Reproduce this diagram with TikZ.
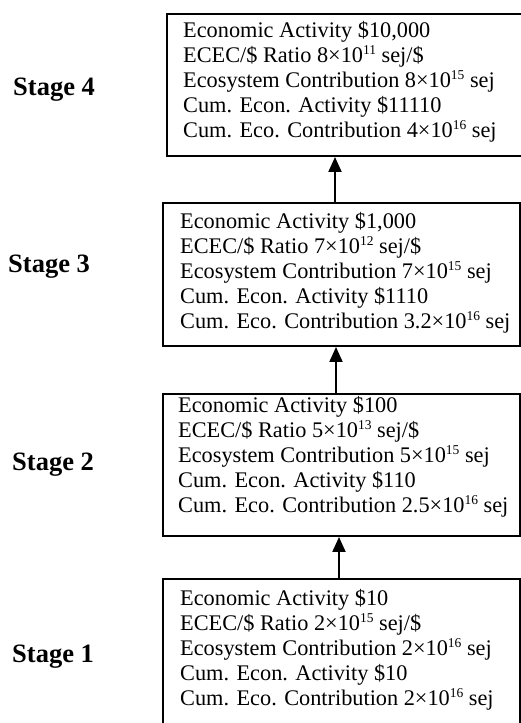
\documentclass[tikz,border=0pt]{standalone}
\usepackage{fontspec}
\setmainfont{Liberation Serif}
\usetikzlibrary{arrows.meta}
\newcommand\upx[1]{\raisebox{8pt}{\fontsize{13.5}{13.5}\selectfont #1}}
\begin{document}
\begin{tikzpicture}[x=1pt,y=1pt,
  box/.style={draw, line width=2pt, inner sep=0pt, anchor=north west},
  txt/.style={align=left, inner sep=0pt, anchor=west, font=\fontsize{22.3}{25}\selectfont},
  lbl/.style={inner sep=0pt, anchor=west, font=\fontsize{26.5}{30}\selectfont\bfseries},
  arr/.style={line width=2pt, -{Triangle[length=15pt,width=13pt]}}]
\useasboundingbox (0,0) rectangle (520,723);
% boxes
\node[box, minimum width=356pt, minimum height=142pt] (s4) at (166,710) {};
\node[box, minimum width=357pt, minimum height=143pt] (s3) at (162,521) {};
\node[box, minimum width=357pt, minimum height=142pt] (s2) at (162,330) {};
\node[box, minimum width=357pt, minimum height=146pt] (s1) at (162,145) {};
% texts
\node[txt] (t4) at (183,641) {Economic Activity \$10,000\\ECEC/\$ Ratio 8×10\upx{11} sej/\$\\Ecosystem Contribution 8×10\upx{15} sej\\Cum. Econ. Activity \$11110\\Cum. Eco. Contribution 4×10\upx{16} sej};
\node[txt] (t3) at (180,450) {Economic Activity \$1,000\\ECEC/\$ Ratio 7×10\upx{12} sej/\$\\Ecosystem Contribution 7×10\upx{15} sej\\Cum. Econ. Activity \$1110\\Cum. Eco. Contribution 3.2×10\upx{16} sej};
\node[txt] (t2) at (178,266) {Economic Activity \$100\\ECEC/\$ Ratio 5×10\upx{13} sej/\$\\Ecosystem Contribution 5×10\upx{15} sej\\Cum. Econ. Activity \$110\\Cum. Eco. Contribution 2.5×10\upx{16} sej};
\node[txt] (t1) at (180,73) {Economic Activity \$10\\ECEC/\$ Ratio 2×10\upx{15} sej/\$\\Ecosystem Contribution 2×10\upx{16} sej\\Cum. Econ. Activity \$10\\Cum. Eco. Contribution 2×10\upx{16} sej};
% labels
\node[lbl] (l4) at (13,633) {Stage 4};
\node[lbl] (l3) at (8,456) {Stage 3};
\node[lbl] (l2) at (12,258) {Stage 2};
\node[lbl] (l1) at (12,66) {Stage 1};
% arrows
\draw[arr] ([xshift=-2.5pt]s1.north) -- ([xshift=-2.5pt]s1.north |- s2.south);
\draw[arr] ([xshift=-5.5pt]s2.north) -- ([xshift=-5.5pt]s2.north |- s3.south);
\draw[arr] ([xshift=-6.5pt]s3.north) -- ([xshift=-6.5pt]s3.north |- s4.south);
\end{tikzpicture}
\end{document}
